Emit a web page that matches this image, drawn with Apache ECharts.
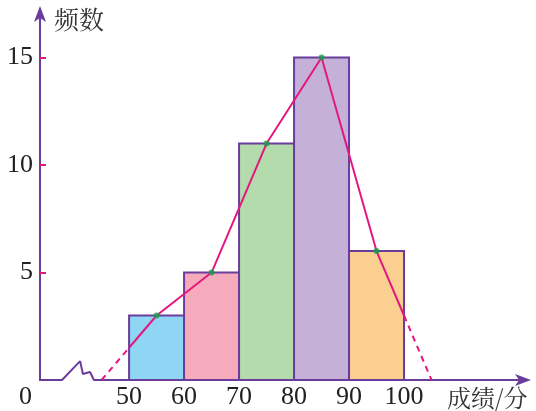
<!DOCTYPE html>
<html>
<head>
<meta charset="utf-8">
<script src="https://cdn.jsdelivr.net/npm/echarts@6/dist/echarts.min.js"></script>
<style>html,body{margin:0;padding:0;background:#fff}#c{width:536px;height:411px}</style>
</head>
<body>
<div id="c"></div>
<script>
// score groups (lower bound, upper bound) and their frequencies
const binStarts = [50, 60, 70, 80, 90];
const binWidth = 10;
const counts = [3, 5, 11, 15, 6];
const binColors = ['#8fd6f4', '#f5abbb', '#b4dbab', '#c5b0d7', '#fbcf8f'];
const xTicks = [50, 60, 70, 80, 90, 100];
const yTicks = [5, 10, 15];
// frequency polygon end points (empty groups on either side)
const polyStart = [45, 0];
const polyEnd = [105, 0];
// axis-break zigzag near the origin (axis units)
const breakPath = [[37.8, 0], [41.1, 0.88], [41.6, 0.28], [42.9, 0.37], [43.6, 0]];

const AXIS = '#6a3c9c';
const PINK = '#e5177f';
const SERIF = '"Liberation Serif", "Times New Roman", serif';
const CJK = '"Noto Serif CJK SC", "Noto Sans CJK SC", serif';

const mids = binStarts.map((s, i) => [s + binWidth / 2, counts[i]]);
// dashed parts lie outside the bars; solid inside
const leftEdge = [binStarts[0], (polyStart[1] + mids[0][1]) / 2];
const lastEnd = binStarts[binStarts.length - 1] + binWidth;
const rightEdge = [lastEnd, (polyEnd[1] + mids[mids.length - 1][1]) / 2];

const chart = echarts.init(document.getElementById('c'));
chart.setOption({
  animation: false,
  grid: { left: 40, right: 11, top: 12, bottom: 31 },
  xAxis: {
    type: 'value', min: 33.8, max: 122,
    axisLine: { show: true, symbol: ['none', 'arrow'], symbolSize: [9, 16], symbolOffset: [0, 6], lineStyle: { color: AXIS, width: 2 } },
    axisTick: { show: false },
    splitLine: { show: false },
    axisLabel: { customValues: xTicks, color: '#222', fontFamily: SERIF, fontSize: 26, margin: 4 }
  },
  yAxis: {
    type: 'value', min: 0, max: 17.12,
    axisLine: { show: true, symbol: ['none', 'arrow'], symbolSize: [9, 16], symbolOffset: [0, 6], lineStyle: { color: AXIS, width: 2 } },
    axisTick: { show: true, inside: true, length: 6, customValues: yTicks, lineStyle: { color: PINK, width: 2 } },
    splitLine: { show: false },
    axisLabel: { customValues: yTicks, color: '#222', fontFamily: SERIF, fontSize: 26, margin: 7 }
  },
  graphic: [
    { type: 'text', left: 54, top: 7, style: { text: '频数', font: '25px ' + CJK, fill: '#333' } },
    { type: 'text', left: 447, top: 386, style: { text: '成绩/分', font: '24px ' + CJK, fill: '#333' } },
    { type: 'text', left: 19, top: 384, style: { text: '0', font: '26px ' + SERIF, fill: '#222' } }
  ],
  series: [
    {
      type: 'custom',
      renderItem: function (params, api) {
        const x0 = api.value(0), y = api.value(1);
        const p0 = api.coord([x0, 0]);
        const p1 = api.coord([x0 + binWidth, y]);
        return {
          type: 'rect',
          shape: { x: p0[0], y: p1[1], width: p1[0] - p0[0], height: p0[1] - p1[1] },
          style: { fill: binColors[params.dataIndex], stroke: AXIS, lineWidth: 2 }
        };
      },
      data: binStarts.map((s, i) => [s, counts[i]]),
      z: 2
    },
    {
      // hides the axis where the break symbol is drawn
      type: 'line', data: [[breakPath[0][0] + 0.1, 0], [breakPath[breakPath.length - 1][0] - 0.1, 0]],
      symbol: 'none', lineStyle: { color: '#fff', width: 4 }, z: 3, silent: true
    },
    {
      type: 'line', data: breakPath, symbol: 'none',
      lineStyle: { color: AXIS, width: 2 }, z: 4, silent: true
    },
    {
      type: 'line', data: [polyStart, leftEdge], symbol: 'none',
      lineStyle: { color: PINK, width: 2, type: [6, 5] }, z: 5
    },
    {
      type: 'line', data: [rightEdge, polyEnd], symbol: 'none',
      lineStyle: { color: PINK, width: 2, type: [6, 5] }, z: 5
    },
    {
      type: 'line', data: [leftEdge].concat(mids, [rightEdge]), symbol: 'none',
      lineStyle: { color: PINK, width: 2 }, z: 5
    },
    {
      type: 'scatter', data: mids, symbol: 'circle', symbolSize: 6,
      itemStyle: { color: '#16a04c' }, z: 6
    }
  ]
});
</script>
</body>
</html>
